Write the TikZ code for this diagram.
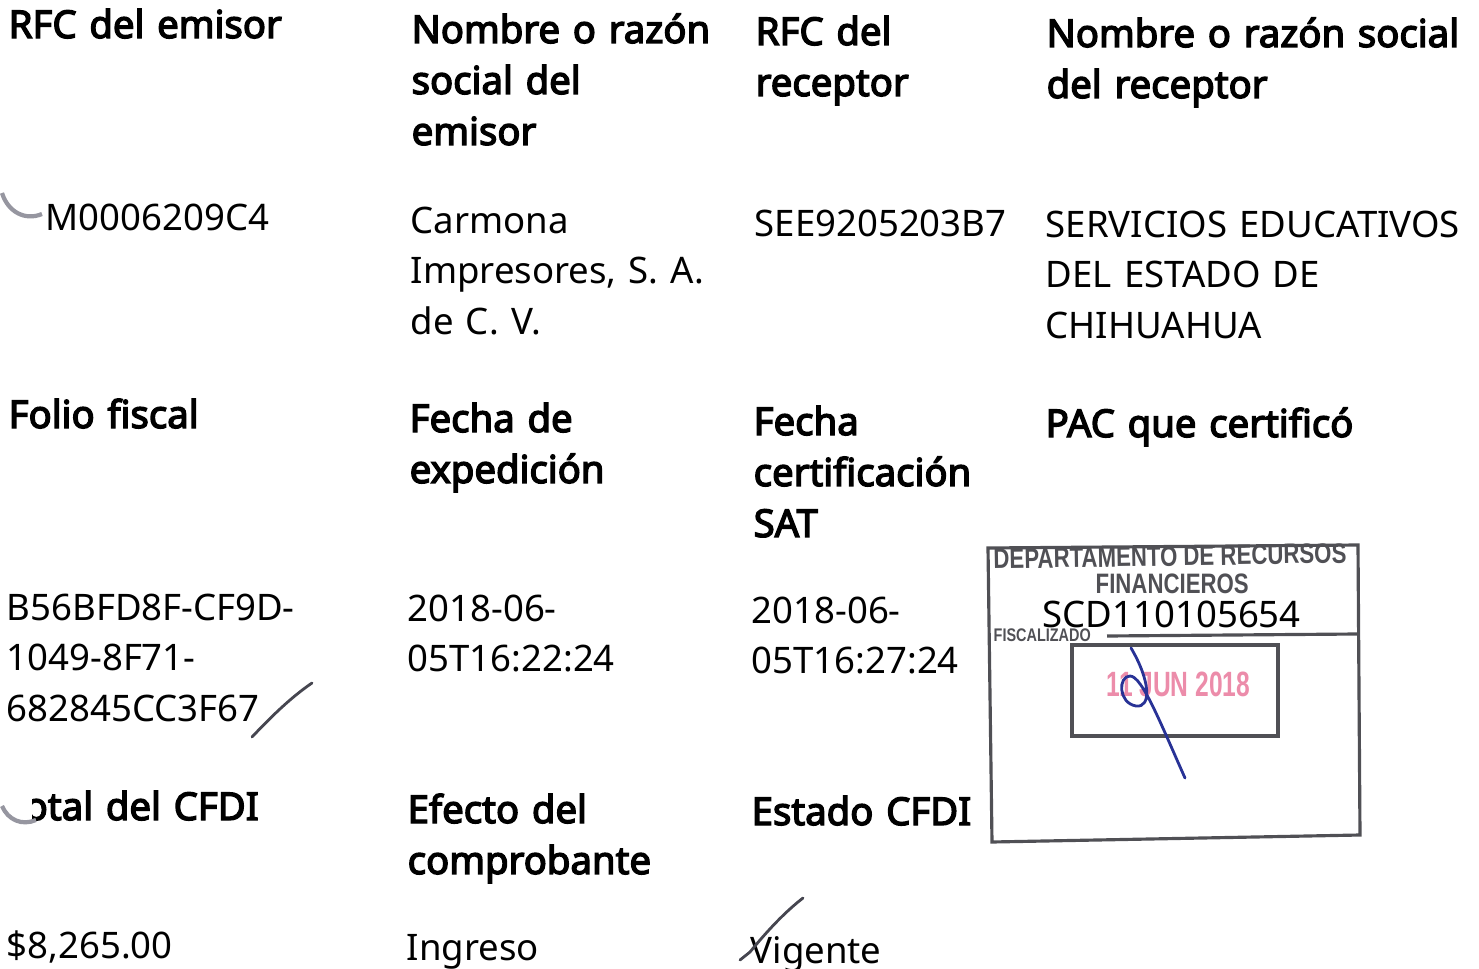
\documentclass[tikz,border=0pt]{standalone}
\usepackage{fontspec}
\setmainfont{Noto Sans}[BoldFont={Noto Sans},BoldFeatures={FakeBold=3.6}]
\newfontfamily\stampfont[FakeStretch=0.79]{Liberation Sans}
\newfontfamily\datefont[FakeStretch=0.7]{Liberation Sans}
\usetikzlibrary{positioning}
\definecolor{stampgray}{RGB}{80,80,85}
\definecolor{datepink}{RGB}{236,140,170}
\definecolor{penblue}{RGB}{40,50,150}
\definecolor{pengray}{RGB}{70,70,80}
\definecolor{smudge}{RGB}{150,150,160}

\begin{document}
\begin{tikzpicture}[x=0.1mm,y=-0.1mm,
  hdr/.style={anchor=base west,inner sep=0,align=left,text width=45mm,font=\bfseries\fontsize{10.9}{14.5}\selectfont},
  val/.style={anchor=base west,inner sep=0,align=left,text width=45mm,font=\fontsize{10.4}{14.5}\selectfont},
  stamptxt/.style={anchor=base west,inner sep=0,text=stampgray},
  stampline/.style={draw=stampgray,line width=0.9pt},
  pen/.style={line width=0.8pt,line cap=round}]
  \useasboundingbox (0,0) rectangle (1479,969) ; %Page size

  \node[hdr] (rfcE) at (8,38) {RFC del emisor} ;              %Header RFC emisor
  \node[val] (rfcEv) at (45,230) {M0006209C4} ;               %Value RFC emisor
  \node[hdr] (folio) at (8,428) {Folio fiscal} ;              %Header folio
  \node[val] (foliov) at (6,620) {B56BFD8F-CF9D-\\1049-8F71-\\682845CC3F67} ; %Value folio
  \node[hdr] (total) at (24,820) {otal del CFDI} ;            %Header total
  \node[val] (totalv) at (6,958) {\$8,265.00} ;               %Value total

  \node[hdr] (nomE) at (411,43) {Nombre o razón\\social del\\emisor} ;  %Header nombre emisor
  \node[val] (nomEv) at (410,233) {Carmona\\Impresores, S. A.\\de C. V.} ; %Value nombre emisor
  \node[hdr] (fexp) at (409,432) {Fecha de\\expedición} ;     %Header expedicion
  \node[val] (fexpv) at (407,621) {2018-06-\\05T16:22:24} ;   %Value expedicion
  \node[hdr] (efecto) at (407,823) {Efecto del\\comprobante} ; %Header efecto
  \node[val] (efectov) at (406,960) {Ingreso} ;               %Value efecto

  \node[hdr] (rfcR) at (755,45) {RFC del\\receptor} ;         %Header RFC receptor
  \node[val] (rfcRv) at (754,236) {SEE9205203B7} ;            %Value RFC receptor
  \node[hdr] (fcert) at (753,435) {Fecha\\certificación\\SAT} ; %Header certificacion
  \node[val] (fcertv) at (751,623) {2018-06-\\05T16:27:24} ;  %Value certificacion
  \node[hdr] (estado) at (751,825) {Estado CFDI} ;            %Header estado
  \node[val] (estadov) at (750,963) {Vigente} ;               %Value estado

  \node[hdr] (nomR) at (1046,47) {Nombre o razón social\\del receptor} ; %Header nombre receptor
  \node[val] (nomRv) at (1045,237) {SERVICIOS EDUCATIVOS\\DEL ESTADO DE\\CHIHUAHUA} ; %Value nombre receptor
  \node[hdr] (pac) at (1045,437) {PAC que certificó} ;        %Header PAC

  \draw[stampline] (988,548) -- (1358,545) -- (1360,835) -- (992,842) -- cycle ; %Draw stamp frame
  \draw[stampline] (1107,636) -- (1357,634) ;                 %Draw stamp rule
  \draw[stampline] (1072,645) rectangle (1278,736) ;          %Draw date box
  \node[stamptxt,font=\stampfont\bfseries\fontsize{8}{9}\selectfont,rotate=1] (dept) at (993,569) {DEPARTAMENTO DE RECURSOS} ;
  \node[stamptxt,font=\stampfont\bfseries\fontsize{8}{9}\selectfont] (fin) at (1095,593) {FINANCIEROS} ;
  \node[stamptxt,font=\stampfont\bfseries\fontsize{5.2}{6}\selectfont] (fisc) at (993,641) {FISCALIZADO} ;
  \node[anchor=base west,inner sep=0,text=datepink,font=\datefont\bfseries\fontsize{10}{11}\selectfont] (fecha) at (1106,696) {11 JUN 2018} ;
  \node[val] (pacv) at (1042,627) {SCD110105654} ;            %Value PAC

  \draw[pen,penblue] (1131,648) .. controls (1150,680) and (1152,708) .. (1136,706)
    .. controls (1118,703) and (1118,676) .. (1130,676)
    .. controls (1142,676) and (1160,722) .. (1185,778) ;      %Draw signature
  \draw[pen,pengray] (252,737) .. controls (270,718) and (290,698) .. (312,683) ; %Draw tick folio
  \draw[pen,pengray] (740,960) -- (750,952) .. controls (768,930) and (785,912) .. (803,898) ; %Draw tick estado

  \fill[white] (0,788) rectangle (32,828) ;                   %Cover torn corner
  \draw[smudge,line width=1.2pt] (2,193) .. controls (8,212) and (25,221) .. (42,214) ; %Draw smudge top
  \draw[smudge,line width=1.2pt] (2,806) .. controls (8,820) and (22,826) .. (36,820) ; %Draw smudge bottom
\end{tikzpicture}
\end{document}
